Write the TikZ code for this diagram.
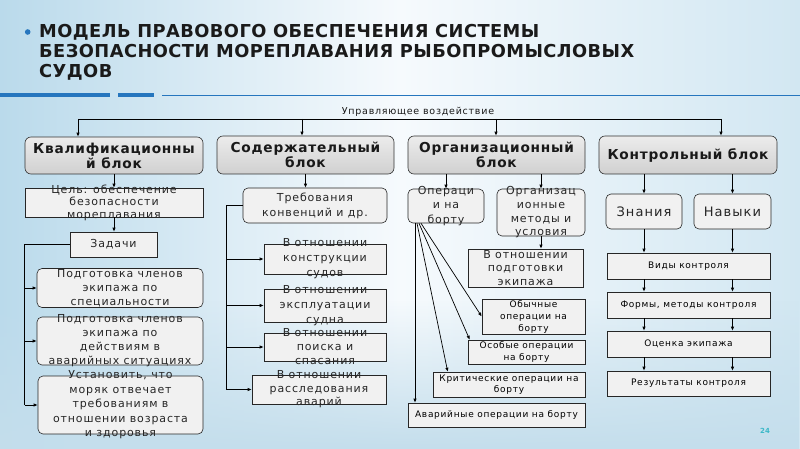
\documentclass[tikz,border=0pt]{standalone}
\usepackage{fontspec}
\setmainfont{DejaVu Sans}
\newfontfamily\ttlf{DejaVu Sans}[LetterSpace=2.5]
\newfontfamily\bodyf{DejaVu Sans}[LetterSpace=8]
\newfontfamily\boldf{DejaVu Sans}[LetterSpace=5.5]
\usetikzlibrary{arrows.meta,fadings}
\definecolor{bgA}{RGB}{186,218,235}
\definecolor{bgB}{RGB}{246,250,253}
\definecolor{bgC}{RGB}{210,231,242}
\definecolor{bgE}{RGB}{196,222,236}
\definecolor{titlec}{RGB}{26,26,26}
\definecolor{blu}{RGB}{38,118,190}
\definecolor{boxF}{RGB}{241,241,241}
\definecolor{boxT}{RGB}{236,236,236}
\definecolor{boxB}{RGB}{208,208,208}
\definecolor{pgc}{RGB}{60,184,200}
\tikzset{
  ln/.style={line width=0.7pt, draw=black},
  arr/.style={ln, -{Latex[length=4pt,width=3.4pt]}},
  tbox/.style={draw=black!80, line width=0.6pt, rounded corners=6pt, top color=boxT, bottom color=boxB, inner sep=0pt},
  rbox/.style={draw=black!85, line width=0.6pt, rounded corners=5pt, fill=boxF, inner sep=0pt},
  sbox/.style={draw=black!85, line width=0.6pt, fill=boxF, inner sep=0pt},
  ttxt/.style={font=\boldf\bfseries\fontsize{13.7}{15}\selectfont, align=center, inner sep=0pt, text=black!90},
  mtxt/.style={font=\bodyf\fontsize{11}{14.5}\selectfont, align=center, inner sep=0pt, text=black!85},
  stxt/.style={font=\bodyf\fontsize{9}{12}\selectfont, align=center, inner sep=0pt, text=black},
}
\begin{document}
\begin{tikzpicture}[x=1pt,y=-1pt]
\useasboundingbox (0,0) rectangle (800,449);
% background
\shade[left color=bgA, right color=bgC, middle color=bgB] (0,0) rectangle (800,449);
\fill[bgE, path fading=north] (0,300) rectangle (800,449);
% title
\fill[blu] (27.7,32) circle (2.8);
\node[anchor=base west, font=\ttlf\bfseries\fontsize{17.8}{20}\selectfont, text=titlec, inner sep=0pt] (t1) at (39,38) {МОДЕЛЬ ПРАВОВОГО ОБЕСПЕЧЕНИЯ СИСТЕМЫ};
\node[anchor=base west, font=\ttlf\bfseries\fontsize{17.8}{20}\selectfont, text=titlec, inner sep=0pt] (t2) at (39,58) {БЕЗОПАСНОСТИ МОРЕПЛАВАНИЯ РЫБОПРОМЫСЛОВЫХ};
\node[anchor=base west, font=\ttlf\bfseries\fontsize{17.8}{20}\selectfont, text=titlec, inner sep=0pt] (t3) at (39,78) {СУДОВ};
\fill[blu] (0,93) rectangle (110,97);
\fill[blu] (118,93) rectangle (154,97);
\draw[blu, line width=0.9pt] (162,95) -- (800,95);
% top blocks
\node[tbox, minimum width=178pt, minimum height=37pt, label={[ttxt]center:{Квалификационны\\й блок}}] (k1) at (114,155.5) {};
\node[tbox, minimum width=177pt, minimum height=38pt, label={[ttxt]center:{Содержательный\\блок}}] (s1) at (305.5,155) {};
\node[tbox, minimum width=177pt, minimum height=38pt, label={[ttxt]center:{Организационный\\блок}}] (o1) at (496.5,155) {};
\node[tbox, minimum width=178pt, minimum height=38pt, label={[ttxt]center:{Контрольный блок}}] (c1) at (688,155) {};
% control line
\node[font=\bodyf\fontsize{9.5}{11}\selectfont, inner sep=0pt, text=black!90] (ctl) at (418,112) {Управляющее воздействие};
\coordinate (cl) at (78,119);
\coordinate (cs) at (302,119);
\coordinate (co) at (496,119);
\coordinate (cr) at (721,119);
\draw[ln] (cl) -- (cr);
\draw[arr] (cl) -- (cl |- k1.north);
\draw[arr] (cs) -- (cs |- s1.north);
\draw[arr] (co) -- (co |- o1.north);
\draw[arr] (cr) -- (cr |- c1.north);
% column 1
\node[sbox, minimum width=178pt, minimum height=29pt, label={[mtxt, font=\bodyf\fontsize{11}{12.5}\selectfont]center:{Цель: обеспечение\\безопасности\\мореплавания}}] (k2) at (114,202.5) {};
\node[sbox, minimum width=87pt, minimum height=25pt, label={[mtxt]center:{Задачи}}] (k3) at (113.5,244.5) {};
\node[rbox, minimum width=166pt, minimum height=39pt, label={[mtxt, font=\bodyf\fontsize{11}{14}\selectfont]center:{Подготовка членов\\экипажа по\\специальности}}] (k4) at (120,288) {};
\node[rbox, minimum width=166pt, minimum height=48pt, label={[mtxt, font=\bodyf\fontsize{11}{14}\selectfont]center:{Подготовка членов\\экипажа по\\действиям в\\аварийных ситуациях}}] (k5) at (120,341) {};
\node[rbox, minimum width=165pt, minimum height=58pt, label={[mtxt]center:{Установить, что\\моряк отвечает\\требованиям в\\отношении возраста\\и здоровья}}] (k6) at (120.5,405) {};
\draw[arr] (k1.south) -- (k2.north);
\draw[arr] (k2.south) -- (k2.south |- k3.north);
\draw[ln] (k3.west) -- ++(-45,0) coordinate (kb) -- (kb |- k6.west);
\draw[arr] (kb |- k4.west) -- (k4.west);
\draw[arr] (kb |- k5.west) -- (k5.west);
\draw[arr] (kb |- k6.west) -- (k6.west);
% column 2
\node[rbox, minimum width=144pt, minimum height=35pt, label={[mtxt, font=\bodyf\fontsize{11}{15}\selectfont]center:{Требования\\конвенций и др.}}] (s2) at (315,205.5) {};
\node[sbox, minimum width=122pt, minimum height=30pt, label={[mtxt, font=\bodyf\fontsize{11}{15}\selectfont]center:{В отношении\\конструкции\\судов}}] (s3) at (325,259) {};
\node[sbox, minimum width=122pt, minimum height=33pt, label={[mtxt, font=\bodyf\fontsize{11}{15}\selectfont]center:{В отношении\\эксплуатации\\судна}}] (s4) at (325,305.5) {};
\node[sbox, minimum width=122pt, minimum height=28pt, label={[mtxt, font=\bodyf\fontsize{11}{14}\selectfont]center:{В отношении\\поиска и\\спасания}}] (s5) at (325,347) {};
\node[sbox, minimum width=134pt, minimum height=29pt, label={[mtxt, font=\bodyf\fontsize{11}{13.5}\selectfont]center:{В отношении\\расследования\\аварий}}] (s6) at (319,389.5) {};
\draw[arr] (s1.south) -- (s1.south |- s2.north);
\draw[ln] (s2.west) -- ++(-16,0) coordinate (sb) -- (sb |- s6.west);
\draw[arr] (sb |- s3.west) -- (s3.west);
\draw[arr] (sb |- s4.west) -- (s4.west);
\draw[arr] (sb |- s5.west) -- (s5.west);
\draw[arr] (sb |- s6.west) -- (s6.west);
% column 3
\node[rbox, minimum width=76pt, minimum height=34pt, label={[mtxt]center:{Операци\\и на\\борту}}] (o2) at (446,206) {};
\node[rbox, minimum width=88pt, minimum height=47pt, label={[mtxt, font=\bodyf\fontsize{11}{13.7}\selectfont]center:{Организац\\ионные\\методы и\\условия}}] (o3) at (541,212.5) {};
\node[sbox, minimum width=115pt, minimum height=38pt, label={[mtxt, font=\bodyf\fontsize{11}{13.5}\selectfont]center:{В отношении\\подготовки\\экипажа}}] (o4) at (525.5,268) {};
\node[sbox, minimum width=103pt, minimum height=35pt, label={[stxt]center:{Обычные\\операции на\\борту}}] (o5) at (533.5,316.5) {};
\node[sbox, minimum width=117pt, minimum height=24pt, label={[stxt]center:{Особые операции\\на борту}}] (o6) at (526.5,352) {};
\node[sbox, minimum width=152pt, minimum height=25pt, label={[stxt, font=\bodyf\fontsize{9}{11.5}\selectfont]center:{Критические операции на\\борту}}] (o7) at (509,384.5) {};
\node[sbox, minimum width=177pt, minimum height=24pt, label={[stxt]center:{Аварийные операции на борту}}] (o8) at (496.5,415) {};
\draw[arr] (o2.north |- o1.south) -- (o2.north);
\draw[arr] (o3.north |- o1.south) -- (o3.north);
\draw[arr] (o3.south) -- (o3.south |- o4.north);
\draw[arr] ([xshift=-25pt]o2.south) -- (o5.west);
\draw[arr] ([xshift=-27pt]o2.south) -- ([xshift=2pt]o6.north west);
\draw[arr] ([xshift=-29pt]o2.south) -- ([xshift=15pt]o7.north west);
\draw[arr] ([xshift=-31pt]o2.south) -- ([xshift=-31pt]o2.south |- o8.north);
% column 4
\node[rbox, minimum width=76pt, minimum height=35pt, label={[mtxt, font=\bodyf\fontsize{13}{15}\selectfont]center:{Знания}}] (c2) at (644,211.5) {};
\node[rbox, minimum width=77pt, minimum height=35pt, label={[mtxt, font=\bodyf\fontsize{13}{15}\selectfont]center:{Навыки}}] (c3) at (732.5,211.5) {};
\node[sbox, minimum width=163pt, minimum height=26pt, label={[stxt]center:{Виды контроля}}] (c4) at (688.5,266) {};
\node[sbox, minimum width=163pt, minimum height=26pt, label={[stxt]center:{Формы, методы контроля}}] (c5) at (688.5,305) {};
\node[sbox, minimum width=163pt, minimum height=26pt, label={[stxt]center:{Оценка экипажа}}] (c6) at (688.5,344) {};
\node[sbox, minimum width=163pt, minimum height=25pt, label={[stxt]center:{Результаты контроля}}] (c7) at (688.5,383.5) {};
\draw[arr] (c2.north |- c1.south) -- (c2.north);
\draw[arr] (c3.north |- c1.south) -- (c3.north);
\draw[arr] (c2.south) -- (c2.south |- c4.north);
\draw[arr] (c3.south) -- (c3.south |- c4.north);
\foreach \a/\b in {c4/c5,c5/c6,c6/c7} {
  \draw[arr] (c2.south |- \a.south) -- (c2.south |- \b.north);
  \draw[arr] (c3.south |- \a.south) -- (c3.south |- \b.north);
}
\node[font=\bfseries\fontsize{7}{8}\selectfont, text=pgc, inner sep=0pt] (pg) at (765,431) {24};
\end{tikzpicture}
\end{document}
